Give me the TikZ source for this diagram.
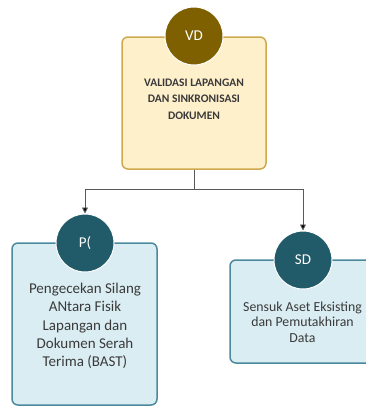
\documentclass[tikz,border=0pt]{standalone}
\usepackage{fontspec}
\setmainfont{Carlito}
\usetikzlibrary{arrows.meta}
\definecolor{ybox}{HTML}{FFF0CC}
\definecolor{yline}{HTML}{CDAA4E}
\definecolor{ycirc}{HTML}{7F6000}
\definecolor{bbox}{HTML}{DAEDF3}
\definecolor{bline}{HTML}{4A8A9C}
\definecolor{bcirc}{HTML}{215A68}
\definecolor{txt}{HTML}{3A3A3A}
\definecolor{conn}{HTML}{595959}
\tikzset{
  ybx/.style={draw=yline, fill=ybox, line width=1.5pt, rounded corners=6pt, rectangle, inner sep=0pt},
  bbx/.style={draw=bline, fill=bbox, line width=1.5pt, rounded corners=6pt, rectangle, inner sep=0pt},
  ycir/.style={circle, fill=ycirc, draw=white, line width=1pt, minimum size=58pt, inner sep=0pt, text=white, font=\fontsize{15}{18}\selectfont},
  bcir/.style={circle, fill=bcirc, draw=white, line width=1pt, minimum size=58pt, inner sep=0pt, text=white, font=\fontsize{15}{18}\selectfont},
  lbl/.style={align=center, text=txt, inner sep=0pt},
  connector/.style={draw=conn, line width=0.9pt, -{Triangle[length=6pt,width=6pt,fill=black]}}
}
\begin{document}
\begin{tikzpicture}[x=1pt,y=-1pt]
\useasboundingbox (0,0) rectangle (366,407);
\node[ybx, minimum width=144pt, minimum height=132pt] (top) at (194,103) {};
\node[bbx, minimum width=145pt, minimum height=162pt] (lbox) at (84.5,324) {};
\node[bbx, minimum width=145pt, minimum height=103pt] (rbox) at (302.5,311.5) {};
\node[ycir] (vd) at (194,36) {VD};
\node[bcir] (pc) at (85,243) {P(};
\node[bcir] (sd) at (303,260) {SD};
\node[lbl, font=\bfseries\fontsize{11.5}{16.5}\selectfont] (toptxt) at (194,99) {VALIDASI LAPANGAN\\DAN SINKRONISASI\\DOKUMEN};
\node[lbl, font=\fontsize{15}{18.2}\selectfont] (ltxt) at (85,326) {Pengecekan Silang\\ANtara Fisik\\Lapangan dan\\Dokumen Serah\\Terima (BAST)};
\node[lbl, font=\fontsize{13.8}{15.5}\selectfont] (rtxt) at (302.5,322) {Sensuk Aset Eksisting\\dan Pemutakhiran\\Data};
\coordinate (j) at (194,189);
\draw[connector] (top.south) -- (j) -| (pc.north);
\draw[connector] (j) -| (sd.north);
\end{tikzpicture}
\end{document}
